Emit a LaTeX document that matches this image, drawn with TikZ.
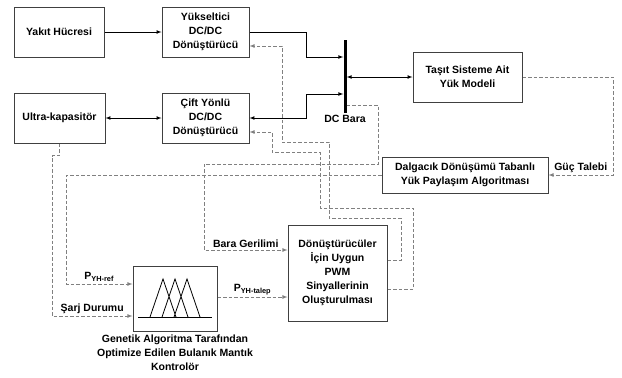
\documentclass[tikz,border=0pt]{standalone}
\usepackage{fontspec}
\setmainfont{Liberation Sans}
\usetikzlibrary{positioning}

\begin{document}
\begin{tikzpicture}[x=1pt, y=-1pt,
  kutu/.style={draw=black!75, line width=1pt, fill=white, align=center, font=\bfseries\fontsize{10.5}{14}\selectfont},
  hat/.style={->, >=latex, line width=0.7pt},
  sinyal/.style={->, >=latex, draw=black!50, line width=0.8pt, dash pattern=on 3.5pt off 2pt},
  etiket/.style={inner sep=1pt, align=center, font=\bfseries\fontsize{10.5}{14}\selectfont}]
\useasboundingbox (0,0) rectangle (622,378);
\node[kutu, minimum width=90pt, minimum height=50pt] (yakit) at (59,32) {Yakıt Hücresi};
\node[kutu, minimum width=87pt, minimum height=50pt] (yukselt) at (205.5,32) {Yükseltici\\ DC/DC\\ Dönüştürücü};
\node[kutu, minimum width=91pt, minimum height=50pt] (ultra) at (59.5,118) {Ultra-kapasitör};
\node[kutu, minimum width=87pt, minimum height=50pt] (cift) at (205.5,118) {Çift Yönlü\\ DC/DC\\ Dönüştürücü};
\node[fill=black, inner sep=0pt, minimum width=3pt, minimum height=73pt] (bara) at (345,76.5) {};
\node[etiket, below=1pt of bara] (baraet) {DC Bara};
\node[kutu, minimum width=109pt, minimum height=50pt] (tasit) at (467.5,77) {Taşıt Sisteme Ait\\ Yük Modeli};
\node[kutu, minimum width=166pt, minimum height=36pt] (dalga) at (465,175) {Dalgacık Dönüşümü Tabanlı\\ Yük Paylaşım Algoritması};
\node[kutu, minimum width=99pt, minimum height=96pt] (pwm) at (337.5,273) {Dönüştürücüler\\ İçin Uygun\\ PWM\\ Sinyallerinin\\ Oluşturulması};
\node[kutu, minimum width=84pt, minimum height=65pt] (bulanik) at (175,298.5) {};
\node[etiket, below=2pt of bulanik] (bulaniket) {Genetik Algoritma Tarafından\\ Optimize Edilen Bulanık Mantık\\ Kontrolör};
% uyelik fonksiyonlari
\draw[line width=0.9pt] (138,317) -- (212,317);
\draw[line width=0.8pt] (150,317) -- (163,279) -- (176,317)
  (162,317) -- (175,279) -- (188,317)
  (174,317) -- (187,279) -- (200,317);
% guc hatlari
\draw[hat] (yakit) -- (yukselt);
\draw[hat] (yukselt.east) -| (306,57) -- (bara.west |- 306,57);
\draw[hat, <->] (ultra) -- (cift);
\draw[hat, <->] (cift.east) -| (306,94) -- (bara.west |- 306,94);
\draw[hat, <->] (bara.east |- tasit.west) -- (tasit.west);
% sinyaller
\draw[sinyal] (tasit.east) -| (613,175) -- node[etiket, above=1pt]{Güç Talebi} (dalga.east);
\draw[sinyal] (bara.east |- 350,105) -| (378,164) -| (204,250) -- node[etiket, above=1pt]{Bara Gerilimi} (pwm.west |- 204,250);
\draw[sinyal] (dalga.west) -| (66,284) -- node[etiket, above=1pt]{P\textsubscript{YH-ref}} (bulanik.west |- 66,284);
\draw[sinyal] (ultra.south) -- ++(0,12) -| (52,316) -- node[etiket, above=1pt]{Şarj Durumu} (bulanik.west |- 52,316);
\draw[sinyal] (bulanik.east |- 220,297) -- node[etiket, above=1pt]{P\textsubscript{YH-talep}} (pwm.west |- 220,297);
\draw[sinyal] (pwm.east |- 390,260) -| (401,218) -| (329,142) -| (282,46) -- (yukselt.east |- 282,46);
\draw[sinyal] (pwm.east |- 390,289) -| (413,208) -| (320,152) -| (272,132) -- (cift.east |- 272,132);
\end{tikzpicture}
\end{document}
